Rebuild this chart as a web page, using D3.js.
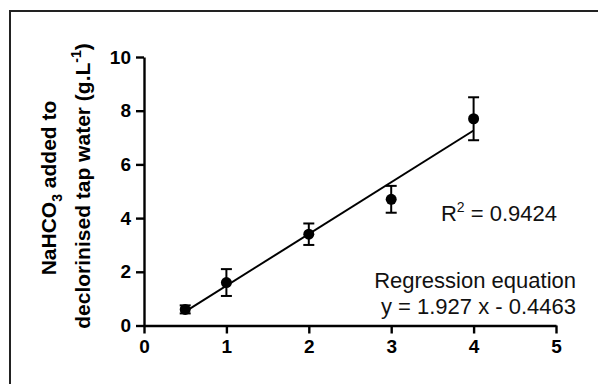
<!DOCTYPE html>
<html>
<head>
<meta charset="utf-8">
<script src="https://cdn.jsdelivr.net/npm/d3@7"></script>
<style>
  html, body { margin: 0; padding: 0; background: #fff; }
  svg { display: block; font-family: Arial, "Liberation Sans", sans-serif; }
</style>
</head>
<body>
<div id="chart"></div>
<script>
// measured data (mean ± error)
const xValues = [0.5, 1, 2, 3, 4];
const yMeans = [0.6, 1.6, 3.4, 4.7, 7.7];
const yErrors = [0.15, 0.5, 0.4, 0.5, 0.8];
const xTicks = [0, 1, 2, 3, 4, 5];
const yTicks = [0, 2, 4, 6, 8, 10];
const slope = 1.927;
const intercept = -0.4463;
const fitRange = [0.5, 4];

const W = 598, H = 384;
const svg = d3.select('#chart').append('svg')
  .attr('width', W).attr('height', H);

// outer frame (runs off right and bottom edges)
svg.append('rect')
  .attr('x', 10).attr('y', 11)
  .attr('width', 600).attr('height', 400)
  .attr('fill', 'none').attr('stroke', '#222').attr('stroke-width', 2);

const x = d3.scaleLinear().domain([0, 5]).range([144, 556]);
const y = d3.scaleLinear().domain([0, 10]).range([325.5, 57]);

const xAxis = svg.append('g')
  .attr('transform', `translate(0,${y(0)})`)
  .call(d3.axisBottom(x).tickValues(xTicks).tickFormat(d3.format('d')).tickSize(8).tickSizeOuter(0));
const yAxis = svg.append('g')
  .attr('transform', `translate(${x(0)},0)`)
  .call(d3.axisLeft(y).tickValues(yTicks).tickFormat(d3.format('d')).tickSize(8).tickSizeOuter(0));

[xAxis, yAxis].forEach(g => {
  g.select('.domain').attr('stroke', '#000').attr('stroke-width', 2.4);
  g.selectAll('.tick line').attr('stroke', '#000').attr('stroke-width', 2.4);
  g.selectAll('.tick text')
    .attr('fill', '#000')
    .style('font-size', '19px')
    .style('font-weight', 'bold')
    .style('font-family', 'Arial, "Liberation Sans", sans-serif');
});
xAxis.selectAll('.tick text').attr('y', 14);
yAxis.selectAll('.tick text').attr('x', -13);

// regression line
const fit = fitRange.map(v => [x(v), y(slope * v + intercept)]);
svg.append('path')
  .attr('d', d3.line()(fit))
  .attr('stroke', '#000').attr('stroke-width', 2).attr('fill', 'none');

// error bars
const pts = xValues.map((v, i) => ({ x: v, y: yMeans[i], e: yErrors[i] }));
const cap = 5.5;
const eb = svg.append('g').attr('stroke', '#000').attr('stroke-width', 2);
pts.forEach(d => {
  const cx = x(d.x), top = y(d.y + d.e), bot = y(d.y - d.e);
  eb.append('line').attr('x1', cx).attr('x2', cx).attr('y1', top).attr('y2', bot);
  eb.append('line').attr('x1', cx - cap).attr('x2', cx + cap).attr('y1', top).attr('y2', top);
  eb.append('line').attr('x1', cx - cap).attr('x2', cx + cap).attr('y1', bot).attr('y2', bot);
});

svg.append('g').selectAll('circle')
  .data(pts).enter().append('circle')
  .attr('cx', d => x(d.x)).attr('cy', d => y(d.y))
  .attr('r', 5.5).attr('fill', '#000');

// annotations
const noteSize = '22px';
const r2 = svg.append('text')
  .attr('x', 557).attr('y', 221)
  .attr('text-anchor', 'end')
  .style('font-size', noteSize).attr('fill', '#111');
r2.append('tspan').text('R');
r2.append('tspan').attr('dy', -9).style('font-size', '14px').text('2');
r2.append('tspan').attr('dy', 9).text(' = 0.9424');

svg.append('text')
  .attr('x', 576).attr('y', 288)
  .attr('text-anchor', 'end')
  .style('font-size', noteSize).attr('fill', '#111')
  .text('Regression equation');
svg.append('text')
  .attr('x', 576).attr('y', 314)
  .attr('text-anchor', 'end')
  .style('font-size', noteSize).attr('fill', '#111')
  .text('y = 1.927 x - 0.4463');

// y-axis title (two lines)
const t1 = svg.append('text')
  .attr('transform', 'translate(56,188) rotate(-90)')
  .attr('text-anchor', 'middle')
  .style('font-size', '21px').style('font-weight', 'bold').attr('fill', '#000');
t1.append('tspan').text('NaHCO');
t1.append('tspan').attr('dy', 6).style('font-size', '14px').text('3');
t1.append('tspan').attr('dy', -6).text(' added to');

const t2 = svg.append('text')
  .attr('transform', 'translate(90,186) rotate(-90)')
  .attr('text-anchor', 'middle')
  .style('font-size', '21px').style('font-weight', 'bold').attr('fill', '#000');
t2.append('tspan').text('declorinised tap water (g.L');
t2.append('tspan').attr('dy', -9).style('font-size', '14px').text('-1');
t2.append('tspan').attr('dy', 9).text(')');
</script>
</body>
</html>
